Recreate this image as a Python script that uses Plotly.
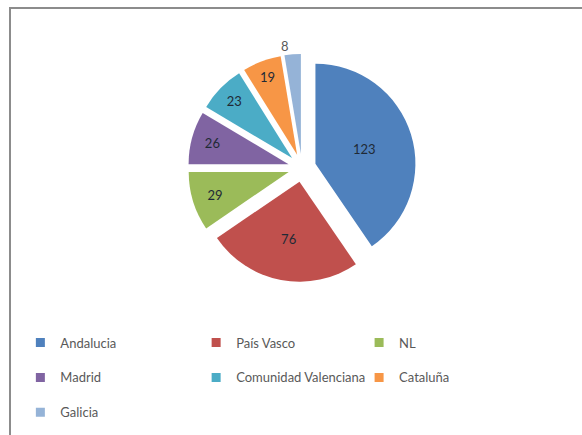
import plotly.graph_objects as go

regions = ["Andalucia", "País Vasco", "NL", "Madrid", "Comunidad Valenciana", "Cataluña", "Galicia"]
counts = [123, 76, 29, 26, 23, 19, 8]
colors = ["#4F81BD", "#C0504D", "#9BBB59", "#8064A2", "#4BACC6", "#F79646", "#95B3D7"]
# legend layout: column index for each region (3 columns, filled row-wise)
legend_cols = ["legend", "legend2", "legend3", "legend", "legend2", "legend3", "legend"]

fig = go.Figure()
fig.add_trace(go.Pie(
    labels=regions, values=counts, sort=False, direction="clockwise", rotation=0,
    marker=dict(colors=colors, line=dict(color="white", width=0)),
    pull=[0.14] * len(counts),
    texttemplate="%{value}", textinfo="value",
    textposition=["inside"] * 6 + ["outside"],
    insidetextorientation="horizontal",
    textfont=dict(family="Lato", size=13, color=["#1f2a36"] * 6 + ["#595959"]),
    showlegend=False, hoverinfo="label+value",
    domain=dict(x=[0.323, 0.715], y=[0.352, 0.876]),
))

for name, col, leg in zip(regions, colors, legend_cols):
    fig.add_trace(go.Scatter(
        x=[None], y=[None], mode="markers", name=name, legend=leg, legendgroup=name,
        marker=dict(symbol="square", size=9, color=col), showlegend=True,
    ))

leg_common = dict(font=dict(family="Lato", size=13, color="#595959"), itemwidth=30,
                  tracegroupgap=15, yanchor="top", xanchor="left", bgcolor="rgba(0,0,0,0)")
fig.update_layout(
    width=582, height=435,
    margin=dict(l=0, r=0, t=0, b=0, autoexpand=False),
    paper_bgcolor="white", plot_bgcolor="white",
    xaxis=dict(visible=False), yaxis=dict(visible=False),
    legend=dict(x=0.035, y=0.247, **leg_common),
    legend2=dict(x=0.337, y=0.247, **leg_common),
    legend3=dict(x=0.617, y=0.247, **leg_common),
    shapes=[dict(type="rect", xref="paper", yref="paper", x0=10 / 582, x1=1.02,
                 y0=-0.02, y1=1 - 8 / 435, line=dict(color="#8c8c8c", width=2))],
)

fig.write_html("out.html", config={"displayModeBar": False},
               post_script="document.body.style.margin='0';")
